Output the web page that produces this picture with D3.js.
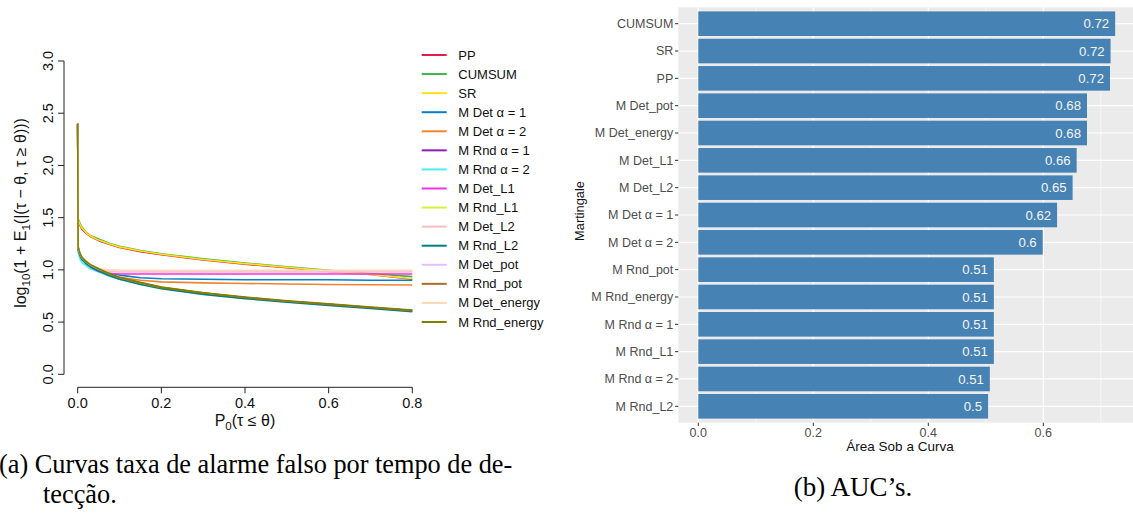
<!DOCTYPE html>
<html><head><meta charset="utf-8">
<script src="https://cdn.jsdelivr.net/npm/d3@7/dist/d3.min.js"></script>
<style>body{margin:0;background:#fff}svg{display:block}</style>
</head><body>
<svg id="c" width="1133" height="515"></svg>
<script>
// ---------- Left panel data ----------
const xGrid = [0, 0.001, 0.005, 0.01, 0.02, 0.03, 0.05, 0.075, 0.1, 0.15, 0.2, 0.3, 0.4, 0.5, 0.6, 0.7, 0.8];
const seriesNames = ["PP","CUMSUM","SR","M Det α = 1","M Det α = 2","M Rnd α = 1","M Rnd α = 2","M Det_L1","M Rnd_L1","M Det_L2","M Rnd_L2","M Det_pot","M Rnd_pot","M Det_energy","M Rnd_energy"];
const seriesColors = ["#e6194b","#3cb44b","#ffe119","#0082c8","#f58231","#911eb4","#46f0f0","#f032e6","#d2f53c","#fabebe","#008080","#e6beff","#aa6e28","#ffd8b1","#808000"];
const ppVals        = [2.40,1.47,1.43,1.39,1.35,1.32,1.28,1.245,1.215,1.175,1.145,1.095,1.055,1.02,0.985,0.955,0.91];
const cumsumVals    = [2.40,1.49,1.45,1.41,1.36,1.33,1.295,1.255,1.225,1.185,1.155,1.105,1.065,1.03,0.995,0.965,0.935];
const srVals        = [2.40,1.48,1.44,1.40,1.355,1.325,1.285,1.25,1.22,1.18,1.15,1.10,1.06,1.025,0.99,0.955,0.915];
const detA1Vals     = [2.40,1.20,1.14,1.11,1.07,1.04,1.00,0.97,0.95,0.925,0.915,0.91,0.905,0.905,0.905,0.90,0.90];
const detA2Vals     = [2.40,1.19,1.13,1.10,1.06,1.03,0.99,0.955,0.93,0.90,0.885,0.875,0.87,0.865,0.86,0.858,0.855];
const rndA1Vals     = [2.40,1.21,1.15,1.11,1.07,1.04,1.00,0.955,0.92,0.87,0.83,0.775,0.735,0.70,0.67,0.64,0.61];
const rndA2Vals     = [2.40,1.17,1.11,1.07,1.04,1.01,0.98,0.94,0.91,0.865,0.825,0.77,0.73,0.70,0.67,0.64,0.61];
const detL1Vals     = [2.40,1.21,1.15,1.11,1.07,1.03,0.985,0.965,0.96,0.96,0.96,0.96,0.96,0.96,0.96,0.96,0.96];
const rndL1Vals     = [2.40,1.22,1.16,1.12,1.08,1.05,1.01,0.96,0.925,0.875,0.835,0.78,0.735,0.70,0.67,0.64,0.61];
const detL2Vals     = [2.40,1.21,1.15,1.11,1.07,1.04,1.00,0.985,0.98,0.98,0.98,0.98,0.98,0.98,0.98,0.98,0.98];
const rndL2Vals     = [2.40,1.20,1.14,1.10,1.06,1.03,0.99,0.945,0.91,0.86,0.82,0.765,0.725,0.69,0.66,0.63,0.60];
const detPotVals    = [2.40,1.22,1.16,1.12,1.08,1.05,1.01,0.995,0.99,0.99,0.99,0.99,0.99,0.99,0.99,0.99,0.99];
const rndPotVals    = [2.40,1.22,1.16,1.12,1.08,1.05,1.01,0.96,0.925,0.875,0.83,0.78,0.735,0.70,0.67,0.64,0.61];
const detEnergyVals = [2.40,1.22,1.16,1.12,1.08,1.05,1.01,1.00,0.995,0.995,0.995,0.995,0.995,0.995,0.995,0.995,0.995];
const rndEnergyVals = [2.40,1.22,1.16,1.12,1.08,1.05,1.01,0.965,0.93,0.88,0.835,0.78,0.74,0.705,0.675,0.645,0.615];
const allVals = [ppVals,cumsumVals,srVals,detA1Vals,detA2Vals,rndA1Vals,rndA2Vals,detL1Vals,rndL1Vals,detL2Vals,rndL2Vals,detPotVals,rndPotVals,detEnergyVals,rndEnergyVals];
const leftXTicks = [0, 0.2, 0.4, 0.6, 0.8];
const leftYTicks = [0, 0.5, 1.0, 1.5, 2.0, 2.5, 3.0];

// ---------- Right panel data ----------
const barCategories = ["CUMSUM","SR","PP","M Det_pot","M Det_energy","M Det_L1","M Det_L2","M Det α = 1","M Det α = 2","M Rnd_pot","M Rnd_energy","M Rnd α = 1","M Rnd_L1","M Rnd α = 2","M Rnd_L2"];
const barValues = [0.725,0.717,0.716,0.676,0.676,0.658,0.651,0.624,0.599,0.514,0.514,0.514,0.514,0.507,0.504];
const barLabels = ["0.72","0.72","0.72","0.68","0.68","0.66","0.65","0.62","0.6","0.51","0.51","0.51","0.51","0.51","0.5"];
const rightXTicks = [0, 0.2, 0.4, 0.6];
const rightXMinor = [0.1, 0.3, 0.5, 0.7];

const svg = d3.select("#c");
const SANS = "'Liberation Sans', Arial, sans-serif";
const SERIF = "'Liberation Serif', 'Times New Roman', serif";

// ================= LEFT =================
const lx = d3.scaleLinear().domain([0, 0.8]).range([77.7, 412.3]);
const ly = d3.scaleLinear().domain([0, 3]).range([374.3, 61]);
const L = svg.append("g");

// y axis
L.append("line").attr("x1",64).attr("x2",64).attr("y1",ly(3)).attr("y2",ly(0)).attr("stroke","#222").attr("stroke-width",1);
leftYTicks.forEach(t=>{
  L.append("line").attr("x1",58).attr("x2",64).attr("y1",ly(t)).attr("y2",ly(t)).attr("stroke","#222");
  L.append("text").attr("transform",`translate(53,${ly(t)}) rotate(-90)`).attr("text-anchor","middle")
    .attr("font-family",SANS).attr("font-size",14.5).attr("fill","#111").text(t.toFixed(1));
});
// x axis
L.append("line").attr("x1",lx(0)).attr("x2",lx(0.8)).attr("y1",387.3).attr("y2",387.3).attr("stroke","#222");
leftXTicks.forEach(t=>{
  L.append("line").attr("x1",lx(t)).attr("x2",lx(t)).attr("y1",387.3).attr("y2",393.3).attr("stroke","#222");
  L.append("text").attr("x",lx(t)).attr("y",408.3).attr("text-anchor","middle")
    .attr("font-family",SANS).attr("font-size",14.5).attr("fill","#111").text(t.toFixed(1));
});
// axis titles
const xl = L.append("text").attr("x",245).attr("y",425.5).attr("text-anchor","middle").attr("font-family",SANS).attr("font-size",16).attr("fill","#111");
xl.append("tspan").text("P");
xl.append("tspan").attr("dy",4).attr("font-size",11.5).text("0");
xl.append("tspan").attr("dy",-4).text("(τ ≤ θ)");

const yl = L.append("text").attr("transform","translate(26,213) rotate(-90)").attr("text-anchor","middle").attr("font-family",SANS).attr("font-size",16).attr("fill","#111");
yl.append("tspan").text("log");
yl.append("tspan").attr("dy",4).attr("font-size",11.5).text("10");
yl.append("tspan").attr("dy",-4).text("(1 + E");
yl.append("tspan").attr("dy",4).attr("font-size",11.5).text("1");
yl.append("tspan").attr("dy",-4).text("(|(τ − θ, τ ≥ θ)))");

// lines
const line = d3.line().x((d,i)=>lx(xGrid[i])).y(d=>ly(d));
allVals.forEach((vals,k)=>{
  L.append("path").attr("d",line(vals)).attr("fill","none").attr("stroke",seriesColors[k]).attr("stroke-width",1.6).attr("stroke-linejoin","round");
});

// legend
seriesNames.forEach((n,k)=>{
  const y = 55 + k*19.07;
  L.append("line").attr("x1",421.7).attr("x2",446.7).attr("y1",y).attr("y2",y).attr("stroke",seriesColors[k]).attr("stroke-width",2);
  L.append("text").attr("x",458.3).attr("y",y).attr("dy","0.35em").attr("font-family",SANS).attr("font-size",13).attr("fill","#111").text(n);
});

// ================= RIGHT =================
const panelL = 678.3, panelR = 1133, panelT = 7.3, panelB = 422.7;
const rx = d3.scaleLinear().domain([0, 0.7612]).range([698.3, 698.3 + 0.7612*575]);
const ry = d3.scaleBand().domain(barCategories).range([panelT, panelB]).paddingInner(0.1).paddingOuter(0.15);
const R = svg.append("g");
R.append("rect").attr("x",panelL).attr("y",panelT).attr("width",panelR-panelL).attr("height",panelB-panelT).attr("fill","#ebebeb");
rightXMinor.forEach(t=>{
  R.append("line").attr("x1",rx(t)).attr("x2",rx(t)).attr("y1",panelT).attr("y2",panelB).attr("stroke","#fff").attr("stroke-width",0.6);
});
rightXTicks.forEach(t=>{
  R.append("line").attr("x1",rx(t)).attr("x2",rx(t)).attr("y1",panelT).attr("y2",panelB).attr("stroke","#fff").attr("stroke-width",1.2);
});
barCategories.forEach(c=>{
  const y = ry(c)+ry.bandwidth()/2;
  R.append("line").attr("x1",panelL).attr("x2",panelR).attr("y1",y).attr("y2",y).attr("stroke","#fff").attr("stroke-width",1.2);
});
R.selectAll("rect.bar").data(barCategories).enter().append("rect").attr("class","bar")
  .attr("x",rx(0)).attr("y",c=>ry(c)).attr("height",ry.bandwidth())
  .attr("width",(c,i)=>rx(barValues[i])-rx(0)).attr("fill","#4682b4");
barCategories.forEach((c,i)=>{
  R.append("text").attr("x",rx(barValues[i])-6).attr("y",ry(c)+ry.bandwidth()/2).attr("dy","0.36em")
    .attr("text-anchor","end").attr("font-family",SANS).attr("font-size",13.2).attr("fill","#f5f5f5").text(barLabels[i]);
  // y ticks
  const y = ry(c)+ry.bandwidth()/2;
  R.append("line").attr("x1",panelL-3.3).attr("x2",panelL).attr("y1",y).attr("y2",y).attr("stroke","#333").attr("stroke-width",1);
  R.append("text").attr("x",panelL-5).attr("y",y).attr("dy","0.35em").attr("text-anchor","end")
    .attr("font-family",SANS).attr("font-size",12.5).attr("fill","#4d4d4d").text(c);
});
rightXTicks.forEach(t=>{
  R.append("line").attr("x1",rx(t)).attr("x2",rx(t)).attr("y1",panelB).attr("y2",panelB+3.3).attr("stroke","#333");
  R.append("text").attr("x",rx(t)).attr("y",436.8).attr("text-anchor","middle")
    .attr("font-family",SANS).attr("font-size",12.5).attr("fill","#4d4d4d").text(t.toFixed(1));
});
R.append("text").attr("x",900).attr("y",451).attr("text-anchor","middle").attr("font-family",SANS).attr("font-size",13.5).attr("fill","#111").text("Área Sob a Curva");
R.append("text").attr("transform","translate(584,211) rotate(-90)").attr("text-anchor","middle").attr("font-family",SANS).attr("font-size",12.8).attr("fill","#111").text("Martingale");

// ================= CAPTIONS =================
svg.append("text").attr("x",-1).attr("y",473).attr("font-family",SERIF).attr("font-size",26.3).attr("fill","#000").text("(a) Curvas taxa de alarme falso por tempo de de-");
svg.append("text").attr("x",43).attr("y",503).attr("font-family",SERIF).attr("font-size",26.3).attr("fill","#000").text("tecção.");
svg.append("text").attr("x",853).attr("y",496).attr("text-anchor","middle").attr("font-family",SERIF).attr("font-size",27).attr("fill","#000").text("(b) AUC’s.");
</script>
</body></html>
